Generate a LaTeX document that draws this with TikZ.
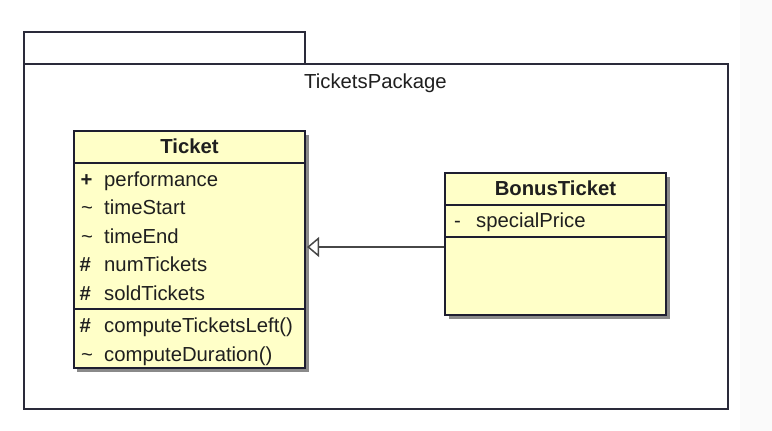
\documentclass[tikz,border=0pt]{standalone}
\usepackage{fontspec}
\setmainfont{Liberation Sans}
\usetikzlibrary{arrows.meta}
\definecolor{boxfill}{HTML}{FFFFC8}
\definecolor{boxline}{HTML}{1E1E30}
\definecolor{pkgline}{HTML}{2A2A3A}
\definecolor{shadowc}{HTML}{8A8A8A}
\definecolor{sideband}{HTML}{FAFAFA}
\tikzset{
  classbox/.style={draw=boxline, line width=1.2pt, fill=boxfill, inner sep=0pt, rectangle},
  pkgbox/.style={draw=pkgline, line width=1.1pt, fill=white, inner sep=0pt, rectangle},
  sep/.style={draw=boxline, line width=1.1pt},
  txt/.style={anchor=base west, inner sep=0pt, font=\fontsize{20.3}{24}\selectfont, text=black!88},
  sym/.style={txt, font=\fontsize{20.3}{24}\selectfont\bfseries},
  head/.style={anchor=base, inner sep=0pt, font=\fontsize{20.3}{24}\selectfont\bfseries, text=black!88},
  genarrow/.style={draw=black!72, line width=1.5pt, shorten >=1.5pt, -{Triangle[open, length=12pt, width=20pt, fill=white, line width=1.5pt]}}
}
\begin{document}
\begin{tikzpicture}[x=1pt,y=-1pt]
\useasboundingbox (0,0) rectangle (772,431);
\fill[white] (0,0) rectangle (772,431);
\fill[sideband] (740,0) rectangle (772,431);
% package
\node[pkgbox, minimum width=281pt, minimum height=32pt] (tab) at (164.5,48) {};
\node[pkgbox, minimum width=704pt, minimum height=345pt] (pkg) at (376,236.5) {};
\node[txt, anchor=base] (pkgname) at (375.5,88) {TicketsPackage};
% Ticket class
\fill[shadowc] (77,135) rectangle (309,372);
\node[classbox, minimum width=231pt, minimum height=237pt] (ticket) at (189.5,249.5) {};
\draw[sep] (74,163) -- (305,163);
\draw[sep] (74,309) -- (305,309);
\node[head] (tname) at (189.5,153) {Ticket};
\node[sym] (v1) at (80.5,186) {+};
\node[txt] (a1) at (104,186) {performance};
\node[txt] (v2) at (81,214) {\textasciitilde};
\node[txt] (a2) at (104,214) {timeStart};
\node[txt] (v3) at (81,243) {\textasciitilde};
\node[txt] (a3) at (104,243) {timeEnd};
\node[sym] (v4) at (79.5,271) {\#};
\node[txt] (a4) at (104,271) {numTickets};
\node[sym] (v5) at (79.5,300) {\#};
\node[txt] (a5) at (104,300) {soldTickets};
\node[sym] (v6) at (79.5,332) {\#};
\node[txt] (m1) at (104,332) {computeTicketsLeft()};
\node[txt] (v7) at (81,361) {\textasciitilde};
\node[txt] (m2) at (104,361) {computeDuration()};
% BonusTicket class
\fill[shadowc] (449,177) rectangle (670,319);
\node[classbox, minimum width=221pt, minimum height=142pt] (bonus) at (555.5,244) {};
\draw[sep] (445,205) -- (666,205);
\draw[sep] (445,237) -- (666,237);
\node[head] (bname) at (555.5,195) {BonusTicket};
\node[txt] (v8) at (454,227) {-};
\node[txt] (b1) at (476,227) {specialPrice};
% generalization
\coordinate (ay) at (0,247);
\draw[genarrow] (bonus.west |- ay) -- (ticket.east |- ay);
\end{tikzpicture}
\end{document}
